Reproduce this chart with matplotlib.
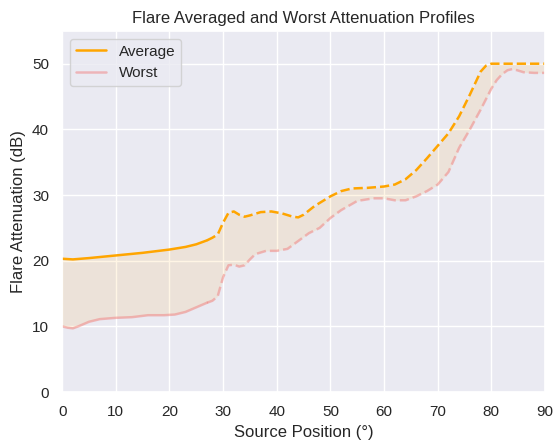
import matplotlib
matplotlib.use("Agg")
import matplotlib.pyplot as plt
import seaborn as sns
import numpy as np

# 平均衰减
avg_x = [0, 2, 5, 10, 15, 20, 23, 25, 27, 28, 29, 30, 31, 32, 33, 34, 35, 37, 39, 41, 43, 44, 45,
         47, 50, 52, 54, 57, 60, 62, 64, 66, 68, 70, 72, 74, 76, 78, 79, 80, 85, 90]
avg_y = [20.3, 20.2, 20.4, 20.8, 21.2, 21.7, 22.1, 22.5, 23.1, 23.5, 24.0, 25.8, 27.3, 27.5, 27.0,
         26.7, 26.9, 27.4, 27.5, 27.2, 26.7, 26.6, 27.0, 28.3, 29.8, 30.6, 31.0, 31.1, 31.3, 31.6,
         32.4, 33.8, 35.6, 37.5, 39.4, 42.0, 45.3, 48.8, 49.7, 50.0, 50.0, 50.0]
# 最差衰减
worst_x = [0, 1, 2, 3, 5, 7, 10, 13, 16, 19, 21, 23, 25, 27, 28, 29, 30, 31, 32, 33, 34, 35, 36,
           38, 40, 42, 44, 46, 48, 50, 52, 55, 58, 60, 62, 64, 66, 68, 70, 72, 74, 76, 78, 80, 81,
           82, 83, 84, 86, 88, 90]
worst_y = [10.0, 9.8, 9.7, 10.0, 10.7, 11.1, 11.3, 11.4, 11.7, 11.7, 11.8, 12.2, 12.9, 13.6, 13.9,
           14.6, 17.5, 19.3, 19.4, 19.1, 19.3, 20.2, 21.0, 21.5, 21.5, 21.8, 23.0, 24.2, 25.0, 26.5,
           27.7, 29.1, 29.5, 29.5, 29.2, 29.2, 29.8, 30.6, 31.6, 33.5, 37.2, 40.0, 43.0, 46.2, 47.5,
           48.4, 49.0, 49.2, 48.7, 48.6, 48.6]
split = 27  # 实线/虚线分界

sns.set_theme(style="darkgrid")
plt.rcParams['font.family'] = ['Liberation Sans', 'DejaVu Sans']
fig = plt.figure(figsize=(5.55, 4.41), dpi=100)
a = fig.add_axes([0.112, 0.111, 0.870, 0.819])

ax_ = np.array(avg_x); ay_ = np.array(avg_y)
wx_ = np.array(worst_x); wy_ = np.array(worst_y)

m = ax_ <= split
a.plot(ax_[m], ay_[m], '-', color='orange', linewidth=1.8, label='Average')
a.plot(ax_[ax_ >= split], ay_[ax_ >= split], '--', color='orange', linewidth=1.8)
m = wx_ <= split
a.plot(wx_[m], wy_[m], '-', color='lightcoral', alpha=0.5, linewidth=1.8, label='Worst')
a.plot(wx_[wx_ >= split], wy_[wx_ >= split], '--', color='lightcoral', alpha=0.5, linewidth=1.8)

fx = np.union1d(ax_, wx_)
a.fill_between(fx, np.interp(fx, ax_, ay_), np.interp(fx, wx_, wy_), color='orange', alpha=0.1, linewidth=0)

a.set_xlim(0, 90)
a.set_ylim(0, 55)
a.set_xticks(range(0, 91, 10))
a.set_yticks(range(0, 51, 10))
a.set_xlabel('Source Position (°)')
a.set_ylabel('Flare Attenuation (dB)')
a.set_title('Flare Averaged and Worst Attenuation Profiles')
a.legend(loc='upper left')
fig.savefig('out.png', dpi=100)
